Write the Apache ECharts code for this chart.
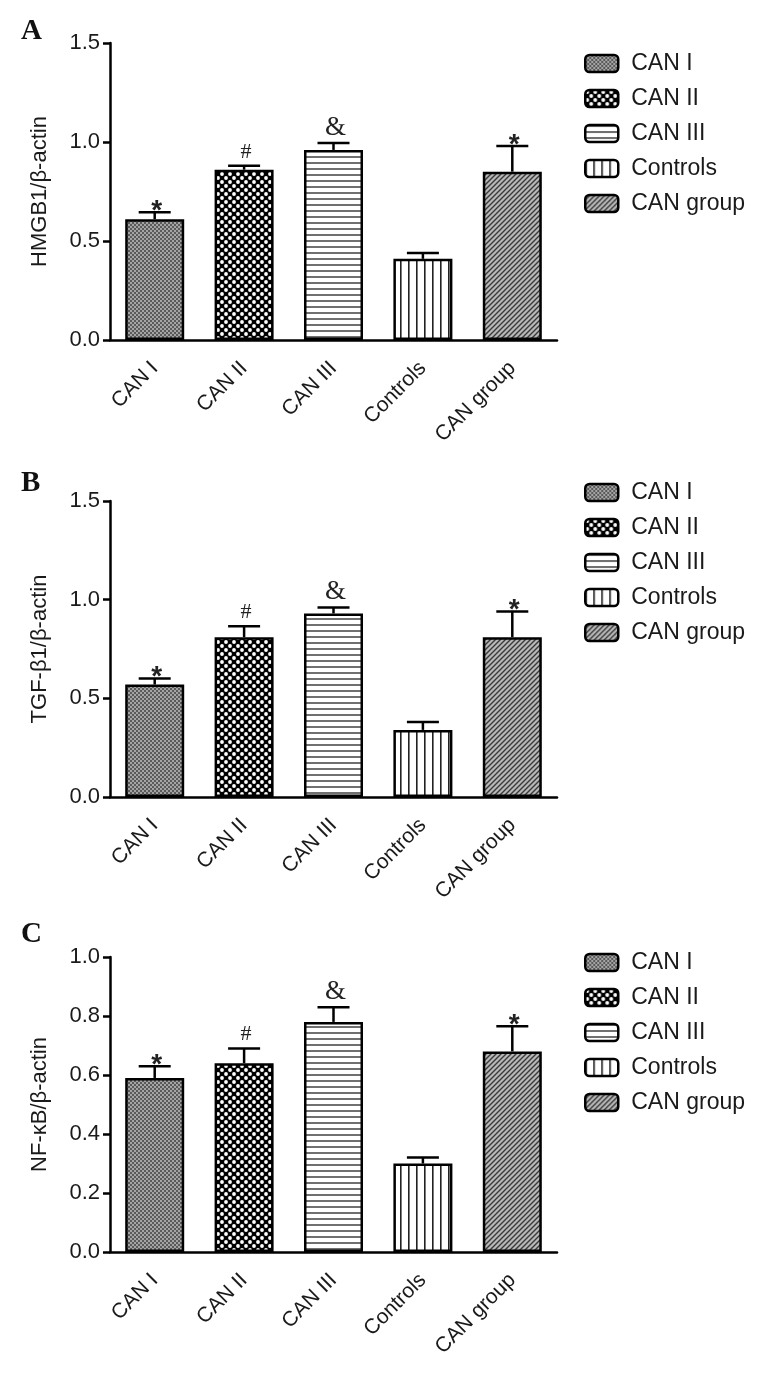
<!DOCTYPE html>
<html>
<head>
<meta charset="utf-8">
<script src="https://cdn.jsdelivr.net/npm/echarts@6/dist/echarts.min.js"></script>
<style>
html,body{margin:0;padding:0;background:#fff;}
#chart{width:759px;height:1376px;}
</style>
</head>
<body>
<div id="chart"></div>
<script>
// ---- data ----
const categories = ['CAN I', 'CAN II', 'CAN III', 'Controls', 'CAN group'];
const hmgb1Mean = [0.61, 0.86, 0.96, 0.41, 0.85];
const hmgb1Err  = [0.035, 0.02, 0.035, 0.03, 0.13];
const tgfMean   = [0.57, 0.81, 0.93, 0.34, 0.81];
const tgfErr    = [0.03, 0.055, 0.03, 0.04, 0.13];
const nfkbMean  = [0.59, 0.64, 0.78, 0.30, 0.68];
const nfkbErr   = [0.04, 0.05, 0.05, 0.02, 0.085];
const markers   = ['*', '#', '&', '', '*'];
const panelLetters = ['A', 'B', 'C'];
const yNames = ['HMGB1/\u03b2-actin', 'TGF-\u03b21/\u03b2-actin', 'NF-\u03baB/\u03b2-actin'];
const yMax = [1.5, 1.5, 1.0];
const yInterval = [0.5, 0.5, 0.2];

// ---- patterns ----
function tile(w, h, draw) {
  const c = document.createElement('canvas');
  c.width = w; c.height = h;
  const g = c.getContext('2d');
  draw(g, w, h);
  return { image: c, repeat: 'repeat' };
}
const patterns = [
  tile(4, 4, (g) => { g.fillStyle = '#5a5a5a'; g.fillRect(0,0,4,4); g.fillStyle = '#a4a4a4'; g.fillRect(0,0,2,2); g.fillRect(2,2,2,2); }),
  tile(8, 8, (g) => { g.fillStyle = '#000'; g.fillRect(0,0,8,8); g.fillStyle = '#fff';
    g.beginPath(); g.arc(2,2,1.9,0,Math.PI*2); g.fill();
    g.beginPath(); g.arc(6,6,1.9,0,Math.PI*2); g.fill(); }),
  tile(6, 6, (g) => { g.fillStyle = '#fff'; g.fillRect(0,0,6,6); g.fillStyle = '#707070'; g.fillRect(0,0,6,2); }),
  tile(8, 8, (g) => { g.fillStyle = '#fff'; g.fillRect(0,0,8,8); g.fillStyle = '#222'; g.fillRect(0,0,1.6,8); }),
  tile(5, 5, (g) => { g.fillStyle = '#b8b8b8'; g.fillRect(0,0,5,5); g.strokeStyle = '#3a3a3a'; g.lineWidth = 1.4;
    g.beginPath(); g.moveTo(-1,6); g.lineTo(6,-1); g.moveTo(-1,1); g.lineTo(1,-1); g.moveTo(4,6); g.lineTo(6,4); g.stroke(); })
];

const panels = [
  { mean: hmgb1Mean, err: hmgb1Err, top: 43, height: 297, letterTop: 17, legendTop: 52 },
  { mean: tgfMean, err: tgfErr, top: 501, height: 296, letterTop: 469, legendTop: 481 },
  { mean: nfkbMean, err: nfkbErr, top: 957, height: 295, letterTop: 920, legendTop: 951 }
];

const FONT = 'Liberation Sans';
const grids = [], xAxes = [], yAxes = [], series = [], legends = [], graphics = [];

const markerStyle = {
  '*': { font: 'bold 28px "Liberation Sans"', dy: 13 },
  '#': { font: '22px "Liberation Serif"', dy: -3 },
  '&': { font: '27px "Liberation Serif"', dy: -2 }
};

panels.forEach((p, pi) => {
  grids.push({ left: 110, top: p.top, width: 447, height: p.height, containLabel: false });
  xAxes.push({
    type: 'category', gridIndex: pi, data: categories,
    axisLine: { lineStyle: { color: '#000', width: 2.5 } },
    axisTick: { alignWithLabel: true, length: 7, lineStyle: { color: '#000', width: 2.5 } },
    axisLabel: { rotate: 45, fontSize: 21, fontFamily: FONT, color: '#1a1a1a', margin: 25, interval: 0 },
    splitLine: { show: false }
  });
  yAxes.push({
    type: 'value', gridIndex: pi, min: 0, max: yMax[pi], interval: yInterval[pi],
    name: yNames[pi], nameLocation: 'middle', nameGap: 59, nameRotate: 90,
    nameTextStyle: { fontSize: 22, fontFamily: FONT, color: '#1a1a1a' },
    axisLine: { show: true, lineStyle: { color: '#000', width: 2.5 } },
    axisTick: { show: true, length: 7, lineStyle: { color: '#000', width: 2.5 } },
    axisLabel: { fontSize: 22, fontFamily: FONT, color: '#1a1a1a', margin: 10,
      formatter: (v) => v.toFixed(1) },
    splitLine: { show: false }
  });
  categories.forEach((c, ci) => {
    series.push({
      type: 'bar', name: c, xAxisIndex: pi, yAxisIndex: pi,
      data: categories.map((_, j) => (j === ci ? p.mean[j] : '-')),
      barWidth: 59, barGap: '-100%',
      itemStyle: { color: patterns[ci], borderColor: '#000', borderWidth: 2.5 },
      emphasis: { disabled: true }, z: 3
    });
  });
  series.push({
    type: 'custom', name: 'err' + pi, xAxisIndex: pi, yAxisIndex: pi,
    data: categories.map((_, j) => [j, p.mean[j], p.err[j]]),
    encode: { x: 0, y: 1 }, z: 2,
    renderItem: function (params, api) {
      const idx = api.value(0), m = api.value(1), e = api.value(2);
      const base = api.coord([idx, m]);
      const top = api.coord([idx, m + e]);
      const half = 16;
      const children = [
        { type: 'line', shape: { x1: base[0], y1: base[1], x2: top[0], y2: top[1] }, style: { stroke: '#000', lineWidth: 2.5 } },
        { type: 'line', shape: { x1: top[0] - half, y1: top[1], x2: top[0] + half, y2: top[1] }, style: { stroke: '#000', lineWidth: 2.5 } }
      ];
      const mk = markers[params.dataIndex];
      if (mk) {
        const ms = markerStyle[mk];
        children.push({ type: 'text', style: { text: mk, x: top[0] + 2, y: top[1] + ms.dy,
          font: ms.font, fill: '#222', align: 'center', verticalAlign: 'bottom' } });
      }
      return { type: 'group', children: children };
    }
  });
  legends.push({
    data: categories, orient: 'vertical', left: 584, top: p.legendTop, padding: 0,
    itemWidth: 33, itemHeight: 17, itemGap: 12, icon: 'roundRect', selectedMode: false,
    itemStyle: { borderColor: '#000', borderWidth: 2.5 },
    textStyle: { fontSize: 23, fontFamily: FONT, color: '#1a1a1a', padding: [0, 0, 0, 8] }
  });
  graphics.push({ type: 'text', left: 21, top: p.letterTop,
    style: { text: panelLetters[pi], font: 'bold 29px "Liberation Serif"', fill: '#111' } });
});

const chart = echarts.init(document.getElementById('chart'), null, { renderer: 'canvas' });
chart.setOption({
  animation: false,
  backgroundColor: '#fff',
  grid: grids, xAxis: xAxes, yAxis: yAxes, series: series, legend: legends,
  graphic: graphics
});
</script>
</body>
</html>
